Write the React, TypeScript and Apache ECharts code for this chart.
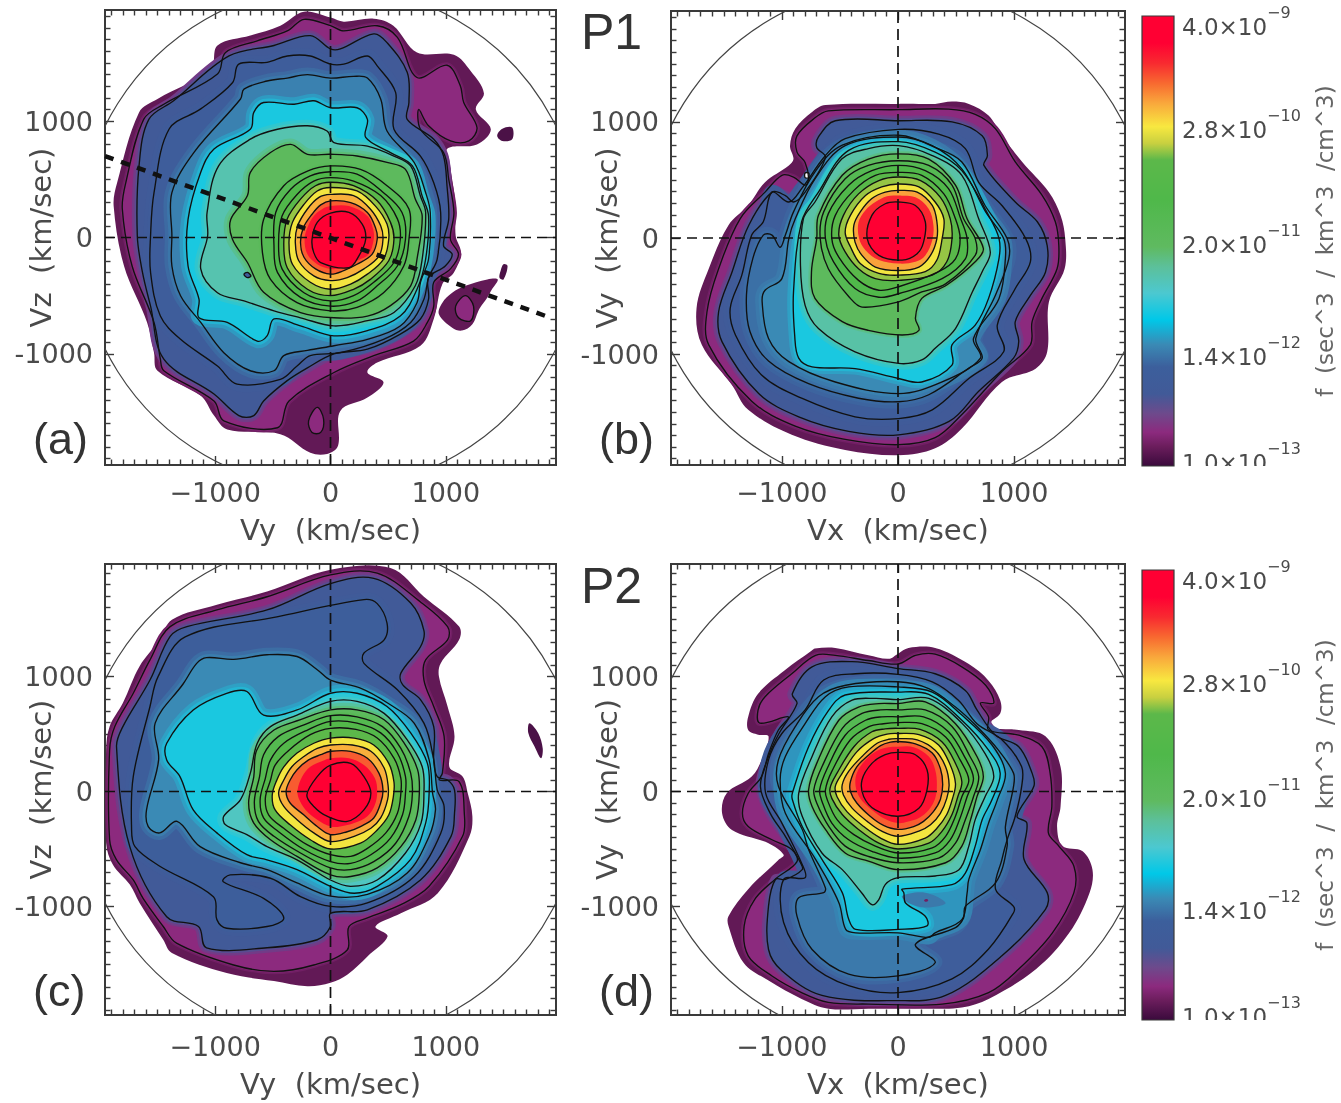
import React, { useEffect, useRef } from "react";
import * as echarts from "echarts";

// ---------- tick labels ----------
const MAJOR_TICKS = [-1000, 0, 1000];
const X_LABELS: Record<string, string> = { "-1000": "\u22121000", "0": "0", "1000": "1000" };
const Y_LABELS: Record<string, string> = { "-1000": "-1000", "0": "0", "1000": "1000" };
const MINOR_TICKS = [-1900,-1800,-1700,-1600,-1500,-1400,-1300,-1200,-1100,-900,-800,-700,-600,-500,-400,-300,-200,-100,100,200,300,400,500,600,700,800,900,1100,1200,1300,1400,1500,1600,1700,1800,1900];
const CB_LABEL_POS = [0.988, 0.758, 0.503, 0.254, 0.02];
const CB_LABELS = ["4.0\u00d710|\u22129", "2.8\u00d710|\u221210", "2.0\u00d710|\u221211", "1.4\u00d710|\u221212", "1.0\u00d710|\u221213"];

// ---------- colour table of the bar (position 0..1, colour) ----------
const COLOR_STOPS: [number, string][] = [
  [0, "#3a0a3c"],[0.043, "#6b1d5c"],[0.075, "#8c2a7e"],[0.117, "#6d4a8c"],[0.16, "#415a98"],[0.22, "#3c5f9c"],[0.27, "#3a8ab5"],
  [0.325, "#00c8e8"],[0.384, "#4cc8d0"],[0.443, "#5cc09a"],[0.487, "#5fba60"],[0.59, "#4fb84a"],[0.68, "#5cb84a"],[0.717, "#c8d040"],
  [0.754, "#f8e840"],[0.806, "#f9a83c"],[0.85, "#f86a30"],[0.895, "#f82a30"],[0.94, "#ff0033"],[1, "#ff0033"],
];

// ---------- panel (a): Vy / Vz contours, km/s, x,y,x,y ----------
const A0=[-230,1940,0,1890,115,1855,375,1880,545,1820,750,1590,1070,1570,1215,1430,1330,1240,1260,1100,1390,930,1270,800,1010,760,1040,590,1085,270,1085,15,1130,-130,1070,-300,970,-400,895,-700,780,-930,405,-1075,320,-1160,460,-1245,320,-1375,85,-1490,65,-1790,-30,-1860,-175,-1850,-435,-1690,-895,-1650,-1010,-1530,-1125,-1360,-1500,-1145,-1530,-990,-1590,-730,-1790,-245,-1880,270,-1850,470,-1660,1075,-1500,1190,-1040,1445,-980,1650,-695,1735,-435,1820];
const A1=[-230,1875,0,1820,115,1775,405,1820,580,1720,750,1375,1010,1480,1125,1305,1155,1160,1270,945,1200,830,1040,830,850,960,765,1100,780,930,980,730,1025,500,1070,215,1040,-15,1110,-145,1040,-270,895,-385,895,-590,840,-730,720,-890,375,-1015,30,-1160,-360,-1405,-460,-1635,-925,-1575,-1010,-1405,-1445,-1145,-1475,-1045,-1530,-730,-1720,-245,-1805,245,-1775,470,-1620,1015,-1445,1145,-980,1405,-910,1590,-635,1690,-375,1775];
const A2=[-175,1735,0,1620,85,1620,375,1750,490,1675,665,1420,680,1160,665,1015,895,845,980,700,1010,445,1025,160,980,-70,1055,-145,995,-245,850,-345,850,-530,780,-700,605,-830,320,-960,30,-1000,-200,-1120,-375,-1230,-580,-1405,-665,-1530,-795,-1530,-1010,-1345,-1445,-1045,-1560,-590,-1630,-300,-1675,15,-1660,615,-1575,1015,-1360,1175,-880,1560,-490,1650];
const A3=[-375,1560,-175,1560,0,1490,115,1490,320,1560,405,1475,565,1245,550,930,780,700,895,470,955,215,925,-185,850,-345,810,-530,695,-730,460,-875,85,-990,-175,-1015,-290,-1105,-435,-1220,-810,-1260,-980,-1105,-1300,-875,-1475,-675,-1560,-300,-1560,15,-1530,385,-1400,930,-1125,1105,-850,1330,-795,1490,-550,1505];
const A4=[-375,1370,-200,1400,0,1370,200,1385,320,1370,435,1190,490,915,725,645,825,385,865,215,850,-185,780,-385,750,-560,605,-760,320,-875,30,-930,-200,-970,-405,-1015,-490,-1145,-695,-1145,-925,-990,-1125,-730,-1300,-500,-1375,-245,-1375,15,-1375,385,-1185,730,-780,1190,-750,1275,-550,1345];
const A5=[-665,1075,-580,1160,-315,1145,-145,1175,0,1115,230,1115,320,1015,305,860,520,730,710,615,795,355,850,185,825,-185,750,-445,605,-675,320,-800,30,-845,-260,-760,-490,-700,-550,-845,-635,-890,-895,-730,-1140,-690,-1140,-530,-1235,-245,-1235,155,-1125,560,-1010,760,-695,930];
const A6=[-460,930,-200,960,-30,915,30,815,320,785,550,700,695,615,780,355,825,215,795,-185,735,-415,550,-645,320,-715,30,-760,-260,-690,-490,-630,-750,-545,-980,-475,-1125,-270,-1065,15,-1070,215,-970,615,-695,845];
const A7=[-520,730,-345,800,-200,715,0,715,230,700,490,645,650,585,735,330,795,185,750,-185,695,-415,520,-585,320,-675,30,-690,-260,-645,-580,-470,-720,-215,-850,-15,-865,155,-720,360,-695,560];
const A8=[0,615,260,585,490,445,680,245,680,-15,635,-245,460,-475,230,-600,0,-630,-290,-560,-520,-360,-590,-130,-580,155,-405,445,-200,570];
const A9=[0,565,230,545,460,385,620,215,650,-15,580,-245,405,-415,230,-545,0,-590,-260,-515,-460,-300,-490,-70,-475,215,-345,415,-175,530];
const A10=[0,515,200,485,435,360,580,160,605,-15,550,-215,375,-385,200,-500,0,-545,-230,-475,-420,-270,-450,-45,-420,185,-290,370,-145,485];
const A11=[0,475,200,445,405,315,520,130,550,-15,505,-200,345,-360,200,-445,0,-500,-200,-445,-375,-260,-405,-45,-375,160,-260,330,-130,445];
const A12=[0,430,230,400,390,270,490,115,505,-15,460,-185,320,-315,175,-400,0,-445,-175,-385,-330,-230,-360,-45,-330,130,-230,285,-115,400];
const A13=[0,370,200,360,345,245,435,100,455,-15,420,-160,290,-270,145,-345,0,-370,-145,-330,-275,-200,-305,-45,-285,100,-200,245,-100,345];
const A14=[0,315,175,300,320,215,390,85,405,-15,360,-145,230,-230,115,-285,0,-315,-130,-270,-230,-170,-260,-45,-235,85,-160,200,-85,280];
const A15=[0,270,160,270,320,185,370,70,375,-15,330,-145,230,-200,100,-260,0,-270,-115,-230,-200,-145,-225,-15,-200,85,-145,185,-70,245];
const A16=[0,210,160,215,275,115,305,-15,245,-160,160,-260,-85,-215,-145,-130,-160,-15,-115,130];
const A_LOOP=[-115,-1460,-60,-1560,-85,-1675,-160,-1675,-190,-1575];
const A_BLOB1=[940,-660,970,-560,1055,-475,1170,-415,1360,-360,1450,-360,1400,-445,1360,-515,1290,-615,1230,-745,1140,-800,1055,-775];
const A_BLOB1_LOOP=[1170,-500,1240,-590,1215,-715,1110,-690,1085,-590];
const A_BLOB2=[1500,-230,1535,-245,1500,-360,1465,-345,1475,-285];
const A_BLOB3=[1445,875,1490,935,1575,945,1575,845,1490,830];
const A_SPECK=[-750,-315,-720,-300,-690,-330,-720,-345];
const A_LEVELS=[.035,.075,.165,.2,.26,.345,.42,.5,.55,.6,.66,.7,.75,.8,.86,.92,.98,.075,.035,.075,.015,.015,.2];

// ---------- panel (b): Vx / Vy ----------
const B0=[-625,1145,5,1155,320,1155,465,1175,610,1155,780,1055,895,880,1070,655,1300,395,1400,195,1440,-5,1435,-265,1300,-550,1285,-980,1185,-1125,895,-1240,550,-1640,320,-1810,5,-1870,-455,-1825,-915,-1695,-1290,-1480,-1430,-1265,-1690,-920,-1735,-605,-1630,-265,-1460,110,-1290,280,-1145,480,-940,625,-900,680,-930,795,-885,940,-740,1085];
const B1=[-600,1095,5,1105,435,1110,665,1065,840,940,1010,655,1240,370,1355,140,1385,-65,1370,-265,1240,-520,1155,-720,1140,-920,895,-1150,550,-1520,320,-1720,5,-1780,-455,-1735,-885,-1620,-1260,-1405,-1630,-920,-1645,-635,-1545,-265,-1360,165,-1145,395,-1000,540,-900,525,-800,455,-770,510,-800,650,-870,740,-870,880,-715,1035];
const B2=[-540,1010,5,1010,465,1000,725,880,770,710,740,625,1010,310,1200,140,1285,-65,1270,-295,1140,-495,1010,-720,1040,-890,995,-1035,695,-1320,440,-1580,5,-1695,-425,-1665,-855,-1540,-1200,-1340,-1515,-895,-1545,-635,-1430,-295,-1285,110,-1085,395,-970,365,-900,310,-800,395,-625,695,-700,780,-685,870];
const B3=[-455,855,5,935,350,895,580,770,695,480,895,280,1100,-5,1140,-205,1010,-435,855,-750,910,-980,610,-1210,295,-1480,5,-1555,-370,-1540,-830,-1380,-1175,-1180,-1400,-835,-1445,-605,-1345,-320,-1260,25,-1160,140,-1085,395,-940,310,-830,425,-625,710];
const B4=[-480,800,5,885,320,780,550,655,750,280,940,-5,955,-175,840,-490,670,-865,725,-1035,610,-1120,265,-1350,5,-1410,-340,-1380,-770,-1255,-1115,-1060,-1275,-805,-1305,-490,-1250,-175,-1160,25,-1085,25,-1015,-80,-970,25,-900,225,-715,570];
const B5=[-455,795,5,870,295,795,550,595,755,225,910,-5,925,-175,870,-520,650,-865,710,-1035,380,-1240,5,-1340,-540,-1240,-940,-1065,-1115,-865,-1170,-550,-1145,-450,-1000,-350,-940,-5,-885,165,-715,510];
const B6=[-425,755,5,830,320,740,550,580,780,195,870,-5,870,-175,780,-520,665,-750,465,-920,465,-1095,205,-1240,5,-1210,-370,-1125,-740,-1110,-855,-1035,-890,-835,-900,-465,-830,140,-685,395];
const B7=[5,795,295,710,550,540,695,165,795,-120,725,-290,640,-465,495,-780,320,-950,205,-1050,5,-1080,-370,-980,-685,-780,-800,-580,-840,-235,-815,165,-715,310,-485,680,-255,770];
const B8=[5,725,265,680,495,455,595,165,735,-90,665,-205,420,-405,205,-520,150,-690,180,-795,35,-835,-255,-795,-480,-720,-715,-520,-745,-290,-700,-5,-685,195,-480,540,-255,680];
const B9=[5,665,265,625,465,455,565,165,665,-5,665,-150,410,-395,205,-465,5,-550,-310,-595,-410,-520,-600,-265,-670,-5,-640,225,-455,510,-255,625];
const B10=[5,625,235,580,435,425,540,165,595,-5,580,-180,380,-350,5,-480,-165,-510,-370,-435,-555,-205,-625,-5,-600,210,-425,455,-225,580];
const B11=[5,565,205,540,395,380,495,165,535,-5,495,-180,350,-290,5,-420,-165,-450,-340,-365,-510,-165,-570,-5,-540,195,-380,410,-195,540];
const B12=[5,525,195,495,365,350,450,165,465,-5,420,-205,295,-320,5,-365,-195,-350,-340,-265,-455,-120,-510,25,-470,195,-340,380,-165,495];
const B13=[5,465,180,440,320,310,395,165,380,-5,335,-190,235,-290,5,-320,-165,-305,-325,-220,-410,-75,-455,50,-410,195,-280,365,-140,440];
const B14=[5,410,165,395,295,280,335,140,335,-5,280,-150,180,-250,5,-280,-195,-250,-310,-150,-370,-35,-380,110,-325,225,-225,340,-110,395];
const B15=[5,365,150,350,265,250,305,110,295,-20,235,-150,150,-205,5,-220,-165,-190,-280,-105,-335,-5,-340,135,-280,240,-195,310,-95,360];
const B16=[5,310,150,280,235,140,220,-35,165,-135,35,-190,-165,-150,-265,-5,-225,195,-110,295];
const B_DOT=[-800,560,-770,560,-770,520,-800,520];
const B_LEVELS=[.035,.075,.165,.2,.24,.27,.345,.43,.5,.55,.6,.66,.7,.75,.81,.9,.98,-1];

// ---------- panel (c): Vy / Vz ----------
const C0=[0,1930,520,1945,810,1695,1115,1435,1115,1320,955,1115,940,1000,1015,740,1075,480,1030,215,1145,130,1190,-15,1230,-215,1205,-390,930,-885,610,-1060,390,-1175,495,-1260,320,-1435,145,-1595,0,-1665,-200,-1695,-490,-1650,-900,-1580,-1375,-1405,-1450,-1290,-1655,-970,-1740,-810,-1885,-640,-1945,-450,-1945,360,-1915,565,-1800,770,-1655,1090,-1480,1320,-1375,1495,-985,1625,-550,1740];
const C1=[0,1885,405,1900,780,1650,1015,1435,1015,1320,825,1145,810,970,895,740,985,480,970,160,945,100,1115,85,1160,-190,1145,-390,855,-825,610,-985,320,-1100,160,-1175,145,-1380,-145,-1510,-490,-1565,-840,-1510,-1335,-1320,-1450,-1175,-1625,-930,-1710,-770,-1855,-595,-1915,-420,-1915,360,-1870,565,-1710,855,-1565,1145,-1390,1435,-985,1580,-550,1695];
const C2=[0,1810,375,1855,695,1640,810,1400,780,1260,610,1030,625,930,780,800,895,565,895,275,925,130,1015,100,1075,15,1075,-190,1045,-390,780,-770,320,-1030,0,-1060,0,-1175,-115,-1290,-550,-1360,-1075,-1360,-1145,-1175,-1420,-1090,-1740,-480,-1855,390,-1800,565,-1565,970,-1390,1350,-1245,1435,-550,1580];
const C3=[-1260,1345,-465,1520,290,1670,405,1635,490,1465,465,1320,290,1205,290,1115,580,885,810,595,895,275,925,15,985,-130,955,-365,725,-740,320,-970,0,-1000,-260,-915,-520,-755,-870,-725,-930,-785,-580,-930,-405,-1100,-550,-1175,-900,-1190,-985,-1115,-1015,-915,-1480,-650,-1695,-480,-1725,-305,-1710,130,-1565,740,-1495,1000];
const C4=[-1160,1115,-1075,1165,-840,1150,-550,1190,-290,1175,-115,1060,0,970,260,900,495,770,725,595,855,275,885,-15,910,-160,855,-390,665,-710,320,-895,0,-910,-290,-795,-550,-680,-780,-620,-1130,-480,-1330,-260,-1480,-360,-1580,-305,-1595,-160,-1490,275,-1520,595,-1275,940];
const C5=[0,855,230,855,490,740,695,510,840,245,855,-15,825,-275,695,-590,405,-825,205,-885,0,-825,-290,-680,-550,-595,-725,-550,-985,-360,-1190,-160,-1305,130,-1420,275,-1420,420,-1190,710,-900,855,-725,870,-580,665,-290,710];
const C6=[0,785,230,785,465,680,665,450,795,215,810,-15,785,-275,650,-535,405,-770,175,-825,0,-770,-290,-595,-550,-480,-725,-375,-910,-290,-925,-215,-780,-70,-695,160,-635,420,-520,565,-290,665];
const C7=[0,710,230,710,465,625,640,420,755,190,770,-15,740,-245,610,-480,405,-665,175,-740,0,-725,-290,-565,-520,-420,-665,-275,-710,-100,-665,130,-640,360,-490,535,-260,625];
const C8=[0,660,230,650,450,565,610,375,695,160,710,-15,680,-215,565,-450,375,-610,175,-680,0,-665,-260,-535,-490,-390,-625,-260,-660,-85,-615,130,-580,320,-450,480,-230,580];
const C9=[0,610,230,595,435,510,580,335,650,130,650,-15,625,-200,520,-405,350,-550,175,-625,0,-610,-230,-505,-450,-350,-580,-230,-610,-70,-565,115,-520,275,-405,420,-200,535];
const C10=[0,550,220,540,405,465,550,290,610,115,610,-15,580,-190,480,-360,320,-495,175,-565,0,-550,-200,-465,-405,-320,-535,-205,-565,-60,-520,100,-480,230,-360,360,-175,495];
const C11=[0,465,205,465,375,405,505,245,550,85,545,-45,505,-205,405,-335,260,-450,0,-500,-175,-420,-350,-290,-480,-160,-505,-30,-465,100,-405,215,-290,335,-145,420];
const C12=[0,405,190,405,350,350,465,205,500,45,495,-70,435,-230,350,-320,205,-390,0,-435,-145,-360,-290,-245,-405,-130,-450,-15,-405,100,-335,215,-230,305,-115,375];
const C13=[0,350,175,350,320,290,420,160,455,15,435,-100,375,-230,260,-305,145,-350,0,-375,-115,-305,-230,-205,-350,-100,-385,0,-350,100,-290,190,-190,275,-85,320];
const C14=[0,290,160,290,290,230,385,115,405,0,385,-115,320,-215,205,-275,85,-305,0,-305,-115,-245,-215,-160,-275,-60,-285,15,-245,130,-175,215,-70,265];
const C15=[0,230,175,245,290,130,350,-15,290,-160,145,-260,-30,-215,-145,-130,-205,-30,-115,130];
const C_BLOB=[1725,595,1800,510,1840,375,1825,290,1770,390,1715,510];
const C_LEVELS=[.035,.075,.16,.21,.27,.345,.4,.5,.56,.62,.68,.75,.8,.86,.93,.98,.015];

// ---------- panel (d): Vx / Vy ----------
const D0=[-715,1245,-540,1250,-255,1185,-80,1155,0,1200,90,1250,320,1250,610,1110,780,965,880,795,880,680,780,590,825,550,1040,535,1270,480,1400,215,1400,-130,1370,-305,1415,-475,1590,-520,1675,-680,1650,-880,1475,-1230,1190,-1545,780,-1805,550,-1880,295,-1890,-255,-1890,-600,-1890,-830,-1805,-1115,-1645,-1330,-1490,-1460,-1170,-1460,-1085,-1290,-850,-1030,-595,-985,-550,-1115,-450,-1430,-335,-1515,-190,-1475,-15,-1260,130,-1175,275,-1115,480,-1205,495,-1290,535,-1290,650,-1205,850,-975,1055,-745,1225];
const D1=[-710,1185,-540,1185,-255,1140,0,1110,150,1185,320,1195,550,1085,755,925,825,770,710,770,780,650,780,535,1040,490,1240,390,1310,160,1325,-130,1295,-360,1385,-475,1515,-650,1515,-880,1330,-1230,1040,-1545,780,-1750,380,-1850,-255,-1850,-600,-1835,-830,-1750,-1085,-1605,-1290,-1430,-1325,-1170,-1235,-940,-1060,-765,-870,-610,-915,-505,-1085,-420,-1290,-305,-1340,-190,-1290,-15,-1175,130,-1115,330,-1030,535,-945,650,-1190,595,-1205,710,-1145,825,-915,1025];
const D2=[-910,850,-870,765,-1025,505,-1115,305,-1185,45,-1100,-190,-970,-390,-840,-620,-825,-680,-970,-765,-1055,-765,-1115,-995,-1115,-1375,-1000,-1560,-655,-1775,0,-1820,410,-1775,895,-1430,1270,-1025,1285,-880,1085,-590,1110,-275,1025,-215,1170,45,1155,160,1040,390,840,490,680,710,580,880,320,1025,0,1070,-395,1130,-740,1085];
const D3=[0,1020,295,955,520,795,680,590,895,450,1065,215,1065,45,1010,-215,940,-420,895,-590,840,-850,995,-1000,995,-1055,780,-1370,465,-1630,0,-1750,-425,-1690,-770,-1490,-985,-1140,-985,-765,-800,-750,-825,-635,-1000,-275,-1140,-15,-1115,275,-1000,505,-800,710,-640,970,-365,1025];
const D4=[0,955,265,895,495,735,680,565,865,360,995,160,995,45,925,-305,940,-475,840,-795,580,-1000,565,-1100,495,-1185,150,-1330,320,-1490,0,-1605,-425,-1590,-740,-1375,-870,-1085,-855,-925,-640,-880,-625,-840,-770,-505,-825,-330,-1030,45,-1030,275,-885,565,-685,825,-450,925];
const D5=[0,910,295,865,550,665,810,405,925,160,855,-75,780,-275,710,-505,610,-765,595,-885,550,-1115,320,-1230,265,-1270,0,-1230,-365,-1230,-450,-1200,-510,-965,-710,-590,-970,-190,-1015,100,-970,305,-800,590,-625,825,-425,910];
const D6=[0,865,265,845,550,620,780,360,880,160,810,-70,725,-245,665,-475,580,-710,465,-810,35,-850,50,-880,65,-970,235,-1085,250,-1170,5,-1200,-365,-1200,-425,-1110,-480,-880,-655,-590,-825,-305,-910,-70,-910,-15,-770,390,-595,710,-455,840];
const D7=[0,800,265,810,550,595,750,330,825,130,750,-45,665,-245,610,-475,525,-680,320,-735,0,-750,-110,-810,-165,-940,-225,-985,-310,-885,-480,-680,-655,-535,-825,-215,-855,-15,-740,305,-570,650,-395,795,-195,810];
const D8=[0,765,235,780,495,590,680,305,735,130,680,-45,625,-245,550,-475,410,-620,0,-680,-255,-605,-455,-535,-625,-330,-740,-130,-770,15,-700,245,-510,620,-340,735,-165,765];
const D9=[0,710,235,710,465,565,620,305,695,130,650,-45,580,-245,495,-450,350,-580,0,-620,-255,-565,-455,-475,-595,-305,-700,-100,-725,15,-655,215,-480,550,-310,680,-150,710];
const D10=[0,650,220,650,435,520,580,290,650,115,595,-45,535,-230,450,-420,320,-535,0,-580,-225,-520,-425,-420,-570,-275,-655,-85,-675,15,-610,200,-455,490,-280,620,-140,650];
const D11=[0,600,205,590,410,475,535,275,610,100,550,-45,495,-215,410,-390,295,-490,0,-535,-195,-475,-380,-375,-525,-245,-610,-70,-625,15,-570,175,-410,450,-250,565,-125,590];
const D12=[0,550,190,540,380,430,495,245,550,85,515,-45,465,-200,380,-345,265,-450,0,-500,-165,-450,-340,-330,-480,-200,-570,-60,-585,30,-525,160,-380,390,-225,520,-110,545];
const D13=[0,505,180,495,350,405,450,230,495,70,470,-60,420,-200,335,-320,235,-405,0,-460,-150,-405,-295,-305,-440,-175,-525,-45,-540,45,-480,160,-355,345,-210,460,-95,500];
const D14=[0,460,165,450,320,360,410,215,440,60,420,-60,365,-190,280,-290,180,-345,0,-390,-140,-345,-265,-260,-395,-145,-470,-30,-480,60,-425,175,-310,305,-180,420,-80,455];
const D15=[0,435,150,415,295,335,365,200,385,60,365,-70,305,-175,220,-260,135,-305,0,-330,-125,-295,-240,-215,-355,-100,-410,0,-410,85,-355,215,-250,320,-150,400,-65,430];
const D16=[0,390,135,385,265,305,320,190,335,60,320,-60,265,-160,180,-230,90,-260,0,-275,-110,-240,-225,-160,-325,-60,-365,45,-355,160,-280,275,-180,355,-80,385];
const D17=[0,340,150,320,250,190,250,15,180,-145,0,-215,-195,-160,-295,-45,-310,100,-225,245,-110,320];
const D_BLUE=[35,-910,235,-880,410,-970,235,-1010,90,-970];
const D_SPECK=[225,-945,250,-935,260,-950,235,-960];
const D_LEVELS=[.035,.075,.165,.2,.25,.28,.345,.42,.5,.55,.6,.65,.7,.75,.8,.86,.92,.98,.25,.05];

const PANEL_A=[A0,A1,A2,A3,A4,A5,A6,A7,A8,A9,A10,A11,A12,A13,A14,A15,A16,A_LOOP,A_BLOB1,A_BLOB1_LOOP,A_BLOB2,A_BLOB3,A_SPECK];
const PANEL_B=[B0,B1,B2,B3,B4,B5,B6,B7,B8,B9,B10,B11,B12,B13,B14,B15,B16,B_DOT];
const PANEL_C=[C0,C1,C2,C3,C4,C5,C6,C7,C8,C9,C10,C11,C12,C13,C14,C15,C_BLOB];
const PANEL_D=[D0,D1,D2,D3,D4,D5,D6,D7,D8,D9,D10,D11,D12,D13,D14,D15,D16,D17,D_BLUE,D_SPECK];
// contours that carry no black line
const UNLINED_A=[0,15,18,20,21]; const UNLINED_B=[0,15]; const UNLINED_C=[0,14,16]; const UNLINED_D=[0,16,18,19];

const SPACE_EDGE=[-1955,1955];
const ZERO=[0,0];
const CIRCLE_RADIUS=2180;
const TILT_X=[-1955,1880]; const TILT_Y=[700,-680];

function hex(c:string){return [1,3,5].map(i=>parseInt(c.slice(i,i+2),16));}
function colormap(t:number){
  if(t<0) return "#ffffff";
  for(let i=1;i<COLOR_STOPS.length;i++){
    const [a,ca]=COLOR_STOPS[i-1]; const [b,cb]=COLOR_STOPS[i];
    if(t<=b){const f=(t-a)/(b-a);const x=hex(ca),y=hex(cb);return `rgb(${x.map((v,k)=>Math.round(v+(y[k]-v)*f)).join(",")})`;}
  }
  return COLOR_STOPS[COLOR_STOPS.length-1][1];
}

const FONT="DejaVu Sans"; const TEXT="#4a4a4a"; const FRAME="#3a3a3a";
const toPts=(api:any,c:number[])=>{const p:number[][]=[];for(let i=0;i<c.length;i+=2)p.push(api.coord([c[i],c[i+1]]));return p;};

function App(){
  const ref=useRef<HTMLDivElement>(null);
  useEffect(()=>{
    const chart=echarts.init(ref.current!,undefined,{renderer:"svg"});
    const grid:any[]=[],xAxis:any[]=[],yAxis:any[]=[],series:any[]=[];
    const panels=[
      {list:PANEL_A,lv:A_LEVELS,un:UNLINED_A,l:105,t:10,w:451,h:455,y:[-1955,1955],xn:"Vy  (km/sec)",yn:"Vz  (km/sec)",tilt:true,lab:14},
      {list:PANEL_B,lv:B_LEVELS,un:UNLINED_B,l:671,t:11,w:454,h:454,y:[-1955,1955],xn:"Vx  (km/sec)",yn:"Vy  (km/sec)",tilt:false,lab:14},
      {list:PANEL_C,lv:C_LEVELS,un:UNLINED_C,l:105,t:564,w:451,h:451,y:[-1945,1980],xn:"Vy  (km/sec)",yn:"Vz  (km/sec)",tilt:false,lab:18},
      {list:PANEL_D,lv:D_LEVELS,un:UNLINED_D,l:671,t:564,w:454,h:451,y:[-1945,1980],xn:"Vx  (km/sec)",yn:"Vy  (km/sec)",tilt:false,lab:18},
    ];
    panels.forEach((p,gi)=>{
      grid.push({left:p.l,top:p.t,width:p.w,height:p.h,containLabel:false,outerBoundsMode:"none"});
      const xi=xAxis.length,yi=yAxis.length;
      const base=(vals:number[],len:number)=>({gridIndex:gi,type:"value",scale:false,splitLine:{show:false},nameMoveOverlap:false,
        axisLine:{show:true,onZero:false,lineStyle:{color:FRAME,width:2}},
        axisTick:{show:true,inside:true,length:len,customValues:vals,lineStyle:{color:FRAME,width:1.4}},axisLabel:{show:false}});
      const xb={min:SPACE_EDGE[0],max:SPACE_EDGE[1]}; const yb={min:p.y[0],max:p.y[1]};
      xAxis.push({...base(MAJOR_TICKS,9),...xb,position:"bottom",name:p.xn,nameLocation:"middle",nameGap:p.lab+36,
        nameTextStyle:{fontFamily:FONT,fontSize:29,color:TEXT},
        axisLabel:{show:true,customValues:MAJOR_TICKS,margin:p.lab,fontFamily:FONT,fontSize:27,color:TEXT,formatter:(v:number)=>X_LABELS[String(v)]}});
      xAxis.push({...base(MAJOR_TICKS,9),...xb,position:"top"});
      xAxis.push({...base(MINOR_TICKS,5.5),...xb,position:"bottom"});
      xAxis.push({...base(MINOR_TICKS,5.5),...xb,position:"top"});
      yAxis.push({...base(MAJOR_TICKS,9),...yb,position:"left",name:p.yn,nameLocation:"middle",nameGap:50,
        nameTextStyle:{fontFamily:FONT,fontSize:29,color:TEXT},
        axisLabel:{show:true,customValues:MAJOR_TICKS,margin:12,fontFamily:FONT,fontSize:27,color:TEXT,formatter:(v:number)=>Y_LABELS[String(v)]}});
      yAxis.push({...base(MAJOR_TICKS,9),...yb,position:"right"});
      yAxis.push({...base(MINOR_TICKS,5.5),...yb,position:"left"});
      yAxis.push({...base(MINOR_TICKS,5.5),...yb,position:"right"});
      const common={type:"custom",coordinateSystem:"cartesian2d",xAxisIndex:xi,yAxisIndex:yi,silent:true,clip:true,encode:{x:0,y:1}};
      const items=p.list.map(()=>ZERO);
      const wide=[0,3,5,7,7,7,6,6,3];
      series.push({...common,data:items,renderItem:(par:any,api:any)=>{
        const i=par.dataIndex; const pts=toPts(api,p.list[i]); const shape={points:pts,smooth:0.35};
        const c=colormap(p.lv[i]); const children:any[]=[];
        const w=wide[i]||0;
        if(w&&p.lv[i]>0){
          const prev=colormap(p.lv[i-1]);
          const mix=(f:number)=>{const g=(s:string)=>s.match(/\d+/g)!.map(Number);const a=g(prev),b=g(c);return `rgb(${a.map((v,k)=>Math.round(v+(b[k]-v)*f)).join(",")})`;};
          children.push({type:"polygon",shape,style:{fill:"none",stroke:mix(.35),lineWidth:w*2}});
          children.push({type:"polygon",shape,style:{fill:"none",stroke:mix(.7),lineWidth:w}});
        }
        children.push({type:"polygon",shape,style:{fill:c,stroke:"none"}});
        return {type:"group",children};
      }});
      series.push({...common,data:items,renderItem:(par:any,api:any)=>{
        const i=par.dataIndex; if(p.un.includes(i)) return {type:"group",children:[]};
        return {type:"polygon",shape:{points:toPts(api,p.list[i]),smooth:0.35},style:{fill:"none",stroke:"#111",lineWidth:1.35}};
      }});
      series.push({...common,data:[ZERO],renderItem:(_:any,api:any)=>{
        const c=api.coord(ZERO); const r=api.size([CIRCLE_RADIUS,CIRCLE_RADIUS])[0];
        return {type:"circle",shape:{cx:c[0],cy:c[1],r},style:{fill:"none",stroke:"#444",lineWidth:1.2}};
      }});
      const dash=(data:number[][],type:any,width:number)=>series.push({type:"line",xAxisIndex:xi,yAxisIndex:yi,silent:true,showSymbol:false,symbol:"none",data,lineStyle:{color:"#111",width,type}});
      dash([[SPACE_EDGE[0],0],[SPACE_EDGE[1],0]],[10,6],1.5);
      dash([[0,p.y[0]],[0,p.y[1]]],[11,6],1.7);
      if(p.tilt) dash([[TILT_X[0],TILT_Y[0]],[TILT_X[1],TILT_Y[1]]],[9,8],4.5);
    });
    // colour bars
    [16,570].forEach((top,k)=>{
      const gi=grid.length; grid.push({left:1142,top,width:32,height:450,outerBoundsMode:"none"});
      const xi=xAxis.length,yi=yAxis.length;
      xAxis.push({gridIndex:gi,type:"value",min:0,max:1,show:false});
      yAxis.push({gridIndex:gi,type:"value",min:0,max:1,position:"right",splitLine:{show:false},axisTick:{show:false},axisLine:{show:false},nameMoveOverlap:false,
        name:"f  (sec^3  /  km^3  /cm^3)",nameLocation:"middle",nameGap:139,nameRotate:90,nameTextStyle:{fontFamily:FONT,fontSize:23,color:"#666"},
        axisLabel:{show:true,customValues:CB_LABEL_POS,margin:8,align:"left",
          formatter:(v:number)=>{const s=CB_LABELS[CB_LABEL_POS.indexOf(v)].split("|");return `{m|${s[0]}}{s|${s[1]}}`;},
          rich:{m:{fontFamily:FONT,fontSize:23,color:TEXT,lineHeight:34,verticalAlign:"bottom"},s:{fontFamily:FONT,fontSize:16,color:TEXT,verticalAlign:"top",lineHeight:20}}}});
      series.push({type:"custom",coordinateSystem:"cartesian2d",xAxisIndex:xi,yAxisIndex:yi,silent:true,encode:{x:0,y:1},data:[ZERO],renderItem:(_:any,api:any)=>{
        const a=api.coord([0,1]),b=api.coord([1,0]);
        return {type:"rect",shape:{x:a[0],y:a[1],width:b[0]-a[0],height:b[1]-a[1]},style:{stroke:FRAME,lineWidth:1.2,
          fill:new echarts.graphic.LinearGradient(0,1,0,0,COLOR_STOPS.map(([offset,color])=>({offset,color})))}};
      }});
    });
    const big=(text:string,x:number,y:number,size:number)=>({type:"text",x,y,z:50,style:{text,fontFamily:"Liberation Sans",fontSize:size,fill:"#333",textVerticalAlign:"middle",verticalAlign:"middle"}});
    const option:any={animation:false,backgroundColor:"#fff",grid,xAxis,yAxis,series,
      graphic:[
        big("P1",581,32,50),big("P2",581,586,50),
        big("(a)",33,438,45),big("(b)",599,438,45),big("(c)",33,990,45),big("(d)",599,990,45),
        {type:"rect",z:60,shape:{x:1178,y:466,width:135,height:10},style:{fill:"#fff"}},
        {type:"rect",z:60,shape:{x:1178,y:1020,width:135,height:10},style:{fill:"#fff"}},
      ]};
    chart.setOption(option);
    return ()=>chart.dispose();
  },[]);
  return <div ref={ref} style={{position:"fixed",left:0,top:0,width:1341,height:1103,filter:"blur(0.7px)"}}/>;
}
export default App;
